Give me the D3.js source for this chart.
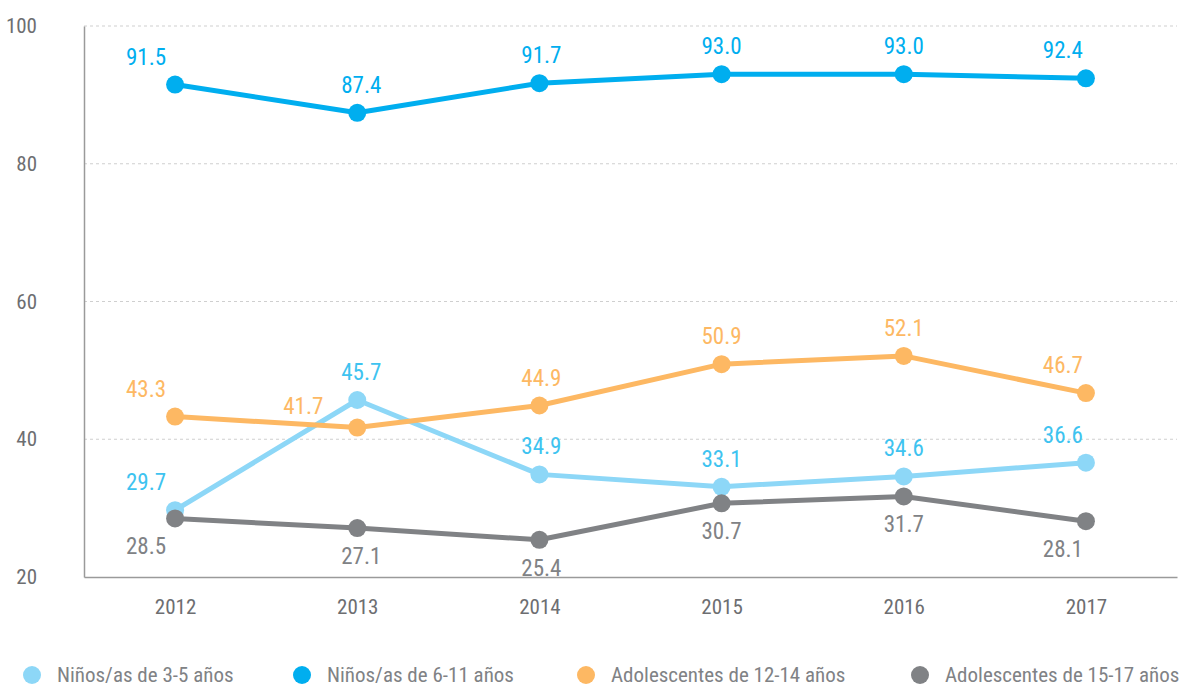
<!DOCTYPE html>
<html>
<head>
<meta charset="utf-8">
<script src="https://d3js.org/d3.v7.min.js"></script>
<style>
  body { margin: 0; background: #fff; }
  svg { display: block; font-family: 'Roboto Condensed', 'Liberation Sans Narrow', 'Arial Narrow', sans-serif; }
</style>
</head>
<body>
<svg id="chart" width="1181" height="688"></svg>
<script>
// Data
const years = ['2012', '2013', '2014', '2015', '2016', '2017']
const yTicks = [20, 40, 60, 80, 100]

const ninos3a5 = [29.7, 45.7, 34.9, 33.1, 34.6, 36.6]
const ninos6a11 = [91.5, 87.4, 91.7, 93.0, 93.0, 92.4]
const adol12a14 = [43.3, 41.7, 44.9, 50.9, 52.1, 46.7]
const adol15a17 = [28.5, 27.1, 25.4, 30.7, 31.7, 28.1]

const seriesNames = [
  'Niños/as de 3-5 años',
  'Niños/as de 6-11 años',
  'Adolescentes de 12-14 años',
  'Adolescentes de 15-17 años'
]

// styling
const series = [
  { name: seriesNames[0], values: ninos3a5, line: '#8dd7f7', text: '#3ec3f0', below: false },
  { name: seriesNames[1], values: ninos6a11, line: '#00aeef', text: '#00aeef', below: false },
  { name: seriesNames[2], values: adol12a14, line: '#fdb863', text: '#fdb863', below: false },
  { name: seriesNames[3], values: adol15a17, line: '#808285', text: '#808285', below: true }
]

// horizontal nudges of the value labels per year (first/last pulled inwards)
const labelDx = [-29, 4, 2, 0, 0, -23]

const margin = { top: 26, right: 4, bottom: 111, left: 84 }
const width = 1181
const height = 688

const svg = d3.select('#chart')

const x = d3.scalePoint()
  .domain(years)
  .range([margin.left, width - margin.right])
  .padding(0.5)

const y = d3.scaleLinear()
  .domain([20, 100])
  .range([height - margin.bottom, margin.top])

// gridlines
svg.append('g')
  .selectAll('line')
  .data(yTicks.filter(d => d > 20))
  .join('line')
  .attr('x1', margin.left)
  .attr('x2', width - margin.right)
  .attr('y1', d => y(d))
  .attr('y2', d => y(d))
  .attr('stroke', '#cfcfcf')
  .attr('stroke-dasharray', '3,3')

// y axis
const yAxis = svg.append('g')
  .attr('transform', `translate(${margin.left},0)`)
  .call(d3.axisLeft(y).tickValues(yTicks).tickSize(0).tickPadding(0))
  .attr('font-family', null)
  .attr('font-size', 21)
yAxis.select('.domain').attr('stroke', '#9a9a9a').attr('stroke-width', 1.5)
yAxis.selectAll('text')
  .attr('x', -47)
  .attr('fill', '#6d6e71')

// x axis
const xAxis = svg.append('g')
  .attr('transform', `translate(0,${height - margin.bottom})`)
  .call(d3.axisBottom(x).tickSize(0).tickPadding(22).tickSizeOuter(0))
  .attr('font-family', null)
  .attr('font-size', 21)
xAxis.select('.domain').attr('stroke', '#9a9a9a').attr('stroke-width', 1.5)
xAxis.selectAll('text')
  .attr('fill', '#6d6e71')

const line = d3.line()
  .x((d, i) => x(years[i]))
  .y(d => y(d))

// lines
svg.append('g')
  .selectAll('path')
  .data(series)
  .join('path')
  .attr('d', d => line(d.values))
  .attr('fill', 'none')
  .attr('stroke', d => d.line)
  .attr('stroke-width', 5)
  .attr('stroke-linejoin', 'round')

// markers
svg.append('g')
  .selectAll('g')
  .data(series)
  .join('g')
  .attr('fill', d => d.line)
  .selectAll('circle')
  .data(d => d.values)
  .join('circle')
  .attr('cx', (d, i) => x(years[i]))
  .attr('cy', d => y(d))
  .attr('r', 9)

// value labels
svg.append('g')
  .selectAll('g')
  .data(series)
  .join('g')
  .attr('fill', d => d.text)
  .selectAll('text')
  .data(d => d.values.map((v, i) => ({ v, i, below: d.below, name: d.name })))
  .join('text')
  .attr('x', d => {
    // 41.7 is pushed left so it does not sit on top of 45.7
    if (d.name === seriesNames[2] && d.i === 1) return x(years[d.i]) - 54
    return x(years[d.i]) + labelDx[d.i]
  })
  .attr('y', d => {
    if (d.name === seriesNames[2] && d.i === 1) return y(d.v) - 14
    return d.below ? y(d.v) + 36 : y(d.v) - 20
  })
  .attr('text-anchor', 'middle')
  .attr('font-size', 23)
  .text(d => d3.format('.1f')(d.v))

// legend
const legendX = [32, 302, 586, 920]
const legend = svg.append('g')
  .selectAll('g')
  .data(series)
  .join('g')
  .attr('transform', (d, i) => `translate(${legendX[i]},675)`)

legend.append('circle')
  .attr('r', 9)
  .attr('fill', d => d.line)

legend.append('text')
  .attr('x', 25)
  .attr('y', 7)
  .attr('font-size', 21)
  .attr('fill', '#808285')
  .text(d => d.name)
</script>
</body>
</html>
